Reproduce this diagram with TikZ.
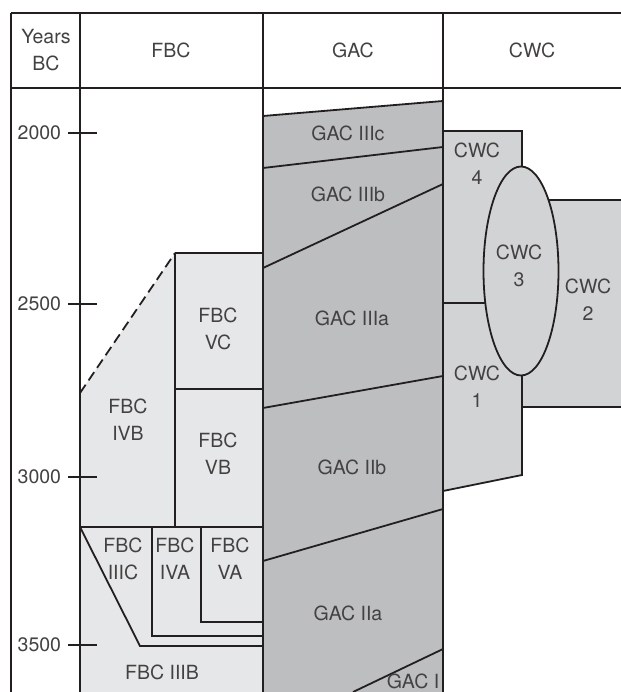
\documentclass[tikz,border=0pt]{standalone}
\usepackage{fontspec}
\setmainfont{TeX Gyre Heros}
\definecolor{fbcgray}{HTML}{E6E7E8}
\definecolor{gacgray}{HTML}{BCBEC0}
\definecolor{cwcgray}{HTML}{D1D3D4}
\definecolor{ink}{HTML}{231F20}
\tikzset{
    lbl/.style={align=center, inner sep=0pt, text=ink!85, font=\fontsize{9.8}{13.5}\selectfont},
    yearlbl/.style={lbl, anchor=east},
}
\begin{document}
\begin{tikzpicture}[x=0.5bp, y=-0.5bp, line width=.9pt, color=ink]
        \useasboundingbox (0, 0) rectangle (621, 692);

        \fill[fbcgray] (80, 393) -- (175, 253) -- (263, 253) -- (263, 692) -- (80, 692) -- cycle;
        \fill[gacgray] (263, 116) -- (443, 101) -- (443, 692) -- (263, 692) -- cycle;
        \fill[cwcgray] (443, 131) -- (522, 131) -- (522, 475) -- (443, 491) -- cycle;
        \fill[cwcgray] (522, 200) rectangle (621, 407);

        \draw (11, 13) -- (621, 13);
        \draw (11, 88) -- (621, 88);
        \draw (11, 13) -- (11, 692);
        \draw (80, 13) -- (80, 692);
        \draw (263, 13) -- (263, 692);
        \draw (443, 13) -- (443, 692);

        \draw (68, 133) -- (97, 133);
        \draw (68, 304) -- (97, 304);
        \draw (68, 477) -- (97, 477);
        \draw (68, 645) -- (97, 645);

        \draw[dash pattern=on 5bp off 2.6bp] (80, 393) -- (175, 253);
        \draw (175, 253) -- (263, 253);
        \draw (175, 253) -- (175, 527);
        \draw (175, 389) -- (263, 389);
        \draw (80, 527) -- (263, 527);
        \draw (80, 527) -- (140, 646) -- (263, 646);
        \draw (152, 527) -- (152, 636) -- (263, 636);
        \draw (201, 527) -- (201, 622) -- (263, 622);

        \draw (263, 116) -- (443, 101);
        \draw (263, 168) -- (443, 147);
        \draw (263, 268) -- (443, 184);
        \draw (263, 408) -- (443, 376);
        \draw (263, 561) -- (443, 509);
        \draw (353, 692) -- (443, 649);

        \draw (443, 131) -- (522, 131) -- (522, 475) -- (443, 491);
        \draw (443, 303) -- (500, 303);
        \draw (522, 200) -- (621, 200);
        \draw (522, 407) -- (621, 407);
        \filldraw[fill=cwcgray] (521, 271) ellipse (37.5 and 104.5);

        \node[lbl] (years) at (46, 50) {Years\\BC};
        \node[lbl] (fbchead) at (171, 50) {FBC};
        \node[lbl] (gachead) at (353, 50) {GAC};
        \node[lbl] (cwchead) at (532, 50) {CWC};

        \node[yearlbl] (y2000) at (62, 133) {2000};
        \node[yearlbl] (y2500) at (62, 304) {2500};
        \node[yearlbl] (y3000) at (62, 477) {3000};
        \node[yearlbl] (y3500) at (62, 645) {3500};

        \node[lbl] (fbcvc) at (218, 329) {FBC\\VC};
        \node[lbl] (fbcivb) at (128, 420) {FBC\\IVB};
        \node[lbl] (fbcvb) at (218, 454) {FBC\\VB};
        \node[lbl] (fbciiic) at (123, 559) {FBC\\IIIC};
        \node[lbl] (fbciva) at (175, 559) {FBC\\IVA};
        \node[lbl] (fbcva) at (230, 559) {FBC\\VA};
        \node[lbl] (fbciiib) at (162, 672) {FBC IIIB};

        \node[lbl] (gaciiic) at (348, 133) {GAC IIIc};
        \node[lbl] (gaciiib) at (348, 194) {GAC IIIb};
        \node[lbl] (gaciiia) at (352, 318) {GAC IIIa};
        \node[lbl] (gaciib) at (352, 467) {GAC IIb};
        \node[lbl] (gaciia) at (348, 613) {GAC IIa};
        \node[lbl] (gaci) at (413, 681) {GAC I};

        \node[lbl] (cwcfour) at (477, 164) {CWC\\4};
        \node[lbl] (cwcthree) at (519, 266) {CWC\\3};
        \node[lbl] (cwctwo) at (588, 300) {CWC\\2};
        \node[lbl] (cwcone) at (477, 387) {CWC\\1};
    \end{tikzpicture}
\end{document}
